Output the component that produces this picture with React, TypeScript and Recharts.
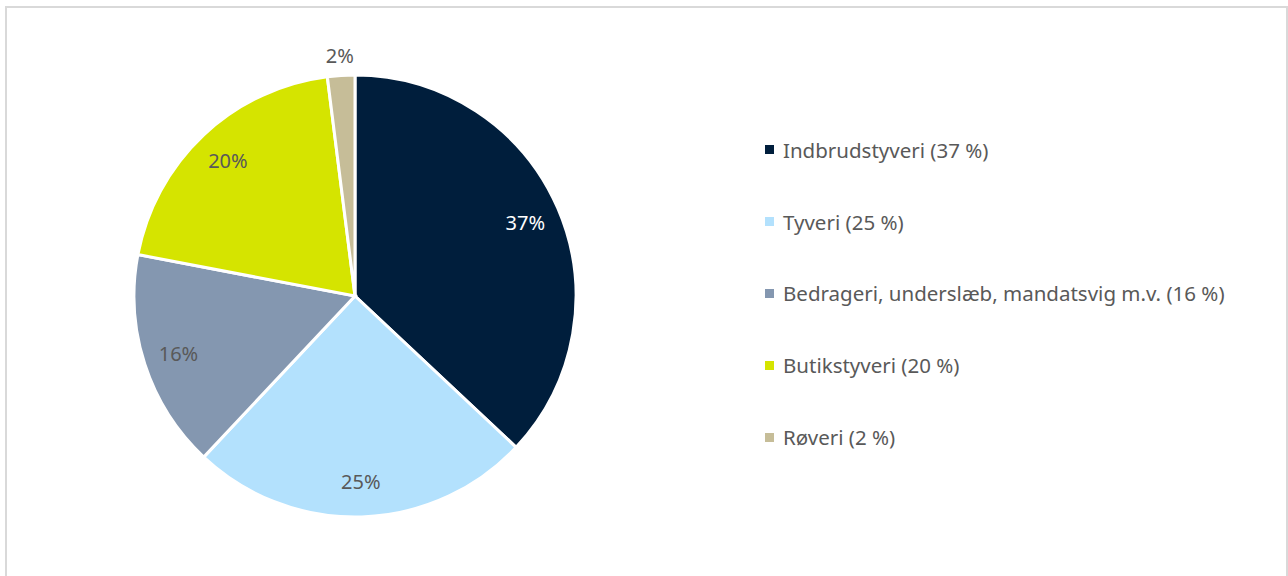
import React from "react";
import { PieChart, Pie, Cell } from "recharts";

// Fordeling af anmeldte forbrydelser efter type
const categories = [
  "Indbrudstyveri",
  "Tyveri",
  "Bedrageri, underslæb, mandatsvig m.v.",
  "Butikstyveri",
  "Røveri",
];
const shares = [37, 25, 16, 20, 2];
const colors = ["#001e3c", "#b3e1fd", "#8497b0", "#d5e400", "#c6bd98"];

const data = categories.map((name, i) => ({ name, value: shares[i] }));

const RAD = Math.PI / 180;
const FONT = "'Noto Sans', 'Open Sans', sans-serif";

function renderLabel(props: any) {
  const { cx, cy, midAngle, outerRadius, value, index } = props;
  const outside = value < 5;
  const r = outside ? outerRadius + 20 : outerRadius * 0.84;
  const x = cx + r * Math.cos(-midAngle * RAD);
  const y = cy + r * Math.sin(-midAngle * RAD);
  return (
    <text
      x={x}
      y={y}
      textAnchor="middle"
      dominantBaseline="central"
      fill={index === 0 ? "#ffffff" : "#595959"}
      fontSize={20}
      fontFamily={FONT}
    >
      {`${value}%`}
    </text>
  );
}

function LegendList() {
  return (
    <div
      style={{
        position: "absolute",
        left: 765,
        top: 114,
        fontFamily: FONT,
        fontSize: 20.5,
        color: "#595959",
        whiteSpace: "nowrap",
      }}
    >
      {data.map((d, i) => (
        <div
          key={d.name}
          style={{ display: "flex", alignItems: "center", height: 71.8 }}
        >
          <span
            style={{
              width: 9,
              height: 9,
              background: colors[i],
              marginRight: 9,
              display: "inline-block",
            }}
          />
          <span>{`${d.name} (${d.value} %)`}</span>
        </div>
      ))}
    </div>
  );
}

export default function App() {
  return (
    <div
      style={{
        position: "fixed",
        left: 0,
        top: 0,
        width: 1288,
        height: 576,
        background: "#fff",
        overflow: "hidden",
      }}
    >
      <div style={{ position: "absolute", left: 0, top: 0 }}>
        <PieChart
          width={1288}
          height={576}
          margin={{ top: 0, right: 0, bottom: 0, left: 0 }}
        >
          <Pie
            data={data}
            dataKey="value"
            nameKey="name"
            cx={355}
            cy={296}
            outerRadius={221}
            startAngle={90}
            endAngle={-270}
            stroke="#ffffff"
            strokeWidth={3}
            label={renderLabel}
            labelLine={false}
            isAnimationActive={false}
          >
            {data.map((d, i) => (
              <Cell key={d.name} fill={colors[i]} />
            ))}
          </Pie>
        </PieChart>
      </div>
      <LegendList />
      <div
        style={{
          position: "absolute",
          left: 5,
          top: 6,
          width: 1279,
          height: 600,
          border: "2px solid #d9d9d9",
          pointerEvents: "none",
        }}
      />
    </div>
  );
}
